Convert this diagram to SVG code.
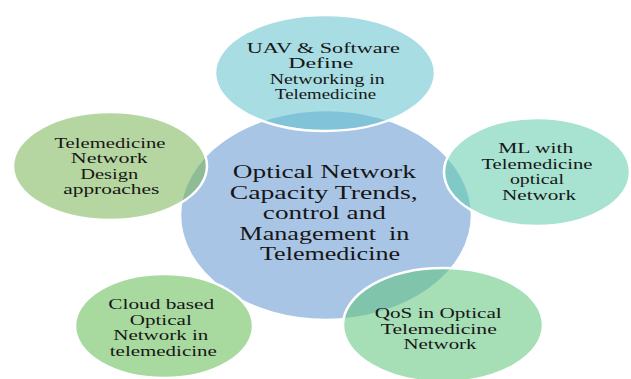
<svg xmlns="http://www.w3.org/2000/svg" width="631" height="379" viewBox="0 0 631 379">
<style>
  .bg { fill: #ffffff; }
  .hub { fill: #a9c5e6; stroke: #ffffff; stroke-width: 2.5; }
  .sat { stroke: #ffffff; stroke-width: 2.5; fill-opacity: 0.55; }
  .t { font-family: "Liberation Serif", "Times New Roman", serif; fill: #161616; text-anchor: middle; }
  .ts { font-size: 14px; }
  .tc { font-size: 18.5px; }
</style>
<rect class="bg" x="0" y="0" width="631" height="379"/>
<g id="connectors"></g>
<g id="hub">
  <ellipse class="hub" cx="326" cy="215" rx="146" ry="105"/>
  <text class="t tc">
    <tspan x="326.7" y="178" textLength="183" lengthAdjust="spacingAndGlyphs">Optical Network</tspan>
    <tspan x="326" y="198.5" textLength="188" lengthAdjust="spacingAndGlyphs">Capacity Trends,</tspan>
    <tspan x="326.7" y="219" textLength="123" lengthAdjust="spacingAndGlyphs">control and</tspan>
    <tspan x="326.7" y="239.5" textLength="170" lengthAdjust="spacingAndGlyphs" xml:space="preserve">Management  in</tspan>
    <tspan x="330" y="260" textLength="140" lengthAdjust="spacingAndGlyphs">Telemedicine</tspan>
  </text>
</g>
<g id="node-uav">
  <ellipse class="sat" cx="325" cy="73" rx="110" ry="58" fill="#61c1cc"/>
  <text class="t ts">
    <tspan x="325" y="52.5" textLength="153" lengthAdjust="spacingAndGlyphs">UAV &amp; Software</tspan>
    <tspan x="322.5" y="68" textLength="65" lengthAdjust="spacingAndGlyphs">Define</tspan>
    <tspan x="329" y="83.5" textLength="115" lengthAdjust="spacingAndGlyphs">Networking in</tspan>
    <tspan x="325.5" y="99" textLength="101" lengthAdjust="spacingAndGlyphs">Telemedicine</tspan>
  </text>
</g>
<g id="node-design">
  <ellipse class="sat" cx="110" cy="166" rx="97" ry="54" fill="#7ab453"/>
  <text class="t ts">
    <tspan x="111.7" y="147.5" textLength="111" lengthAdjust="spacingAndGlyphs">Telemedicine</tspan>
    <tspan x="111" y="163" textLength="77" lengthAdjust="spacingAndGlyphs">Network</tspan>
    <tspan x="111" y="178.5" textLength="58" lengthAdjust="spacingAndGlyphs">Design</tspan>
    <tspan x="111.3" y="194" textLength="96" lengthAdjust="spacingAndGlyphs">approaches</tspan>
  </text>
</g>
<g id="node-ml">
  <ellipse class="sat" cx="537" cy="172" rx="93" ry="54" fill="#61ccad"/>
  <text class="t ts">
    <tspan x="537.5" y="153" textLength="75" lengthAdjust="spacingAndGlyphs">ML with</tspan>
    <tspan x="538.7" y="168.5" textLength="111" lengthAdjust="spacingAndGlyphs">Telemedicine</tspan>
    <tspan x="538.7" y="184" textLength="54" lengthAdjust="spacingAndGlyphs">optical</tspan>
    <tspan x="539" y="199.5" textLength="74" lengthAdjust="spacingAndGlyphs">Network</tspan>
  </text>
</g>
<g id="node-cloud">
  <ellipse class="sat" cx="164" cy="326" rx="89" ry="52" fill="#61bc52"/>
  <text class="t ts">
    <tspan x="163" y="309" textLength="106" lengthAdjust="spacingAndGlyphs">Cloud based</tspan>
    <tspan x="162.5" y="324.5" textLength="62" lengthAdjust="spacingAndGlyphs">Optical</tspan>
    <tspan x="162.5" y="340" textLength="95" lengthAdjust="spacingAndGlyphs">Network in</tspan>
    <tspan x="163.3" y="355.5" textLength="107" lengthAdjust="spacingAndGlyphs">telemedicine</tspan>
  </text>
</g>
<g id="node-qos">
  <ellipse class="sat" cx="443" cy="325" rx="100" ry="57" fill="#5dc37a"/>
  <text class="t ts">
    <tspan x="440" y="318" textLength="127" lengthAdjust="spacingAndGlyphs">QoS in Optical</tspan>
    <tspan x="440.5" y="333.5" textLength="116" lengthAdjust="spacingAndGlyphs">Telemedicine</tspan>
    <tspan x="440" y="349" textLength="73" lengthAdjust="spacingAndGlyphs">Network</tspan>
  </text>
</g>
</svg>
